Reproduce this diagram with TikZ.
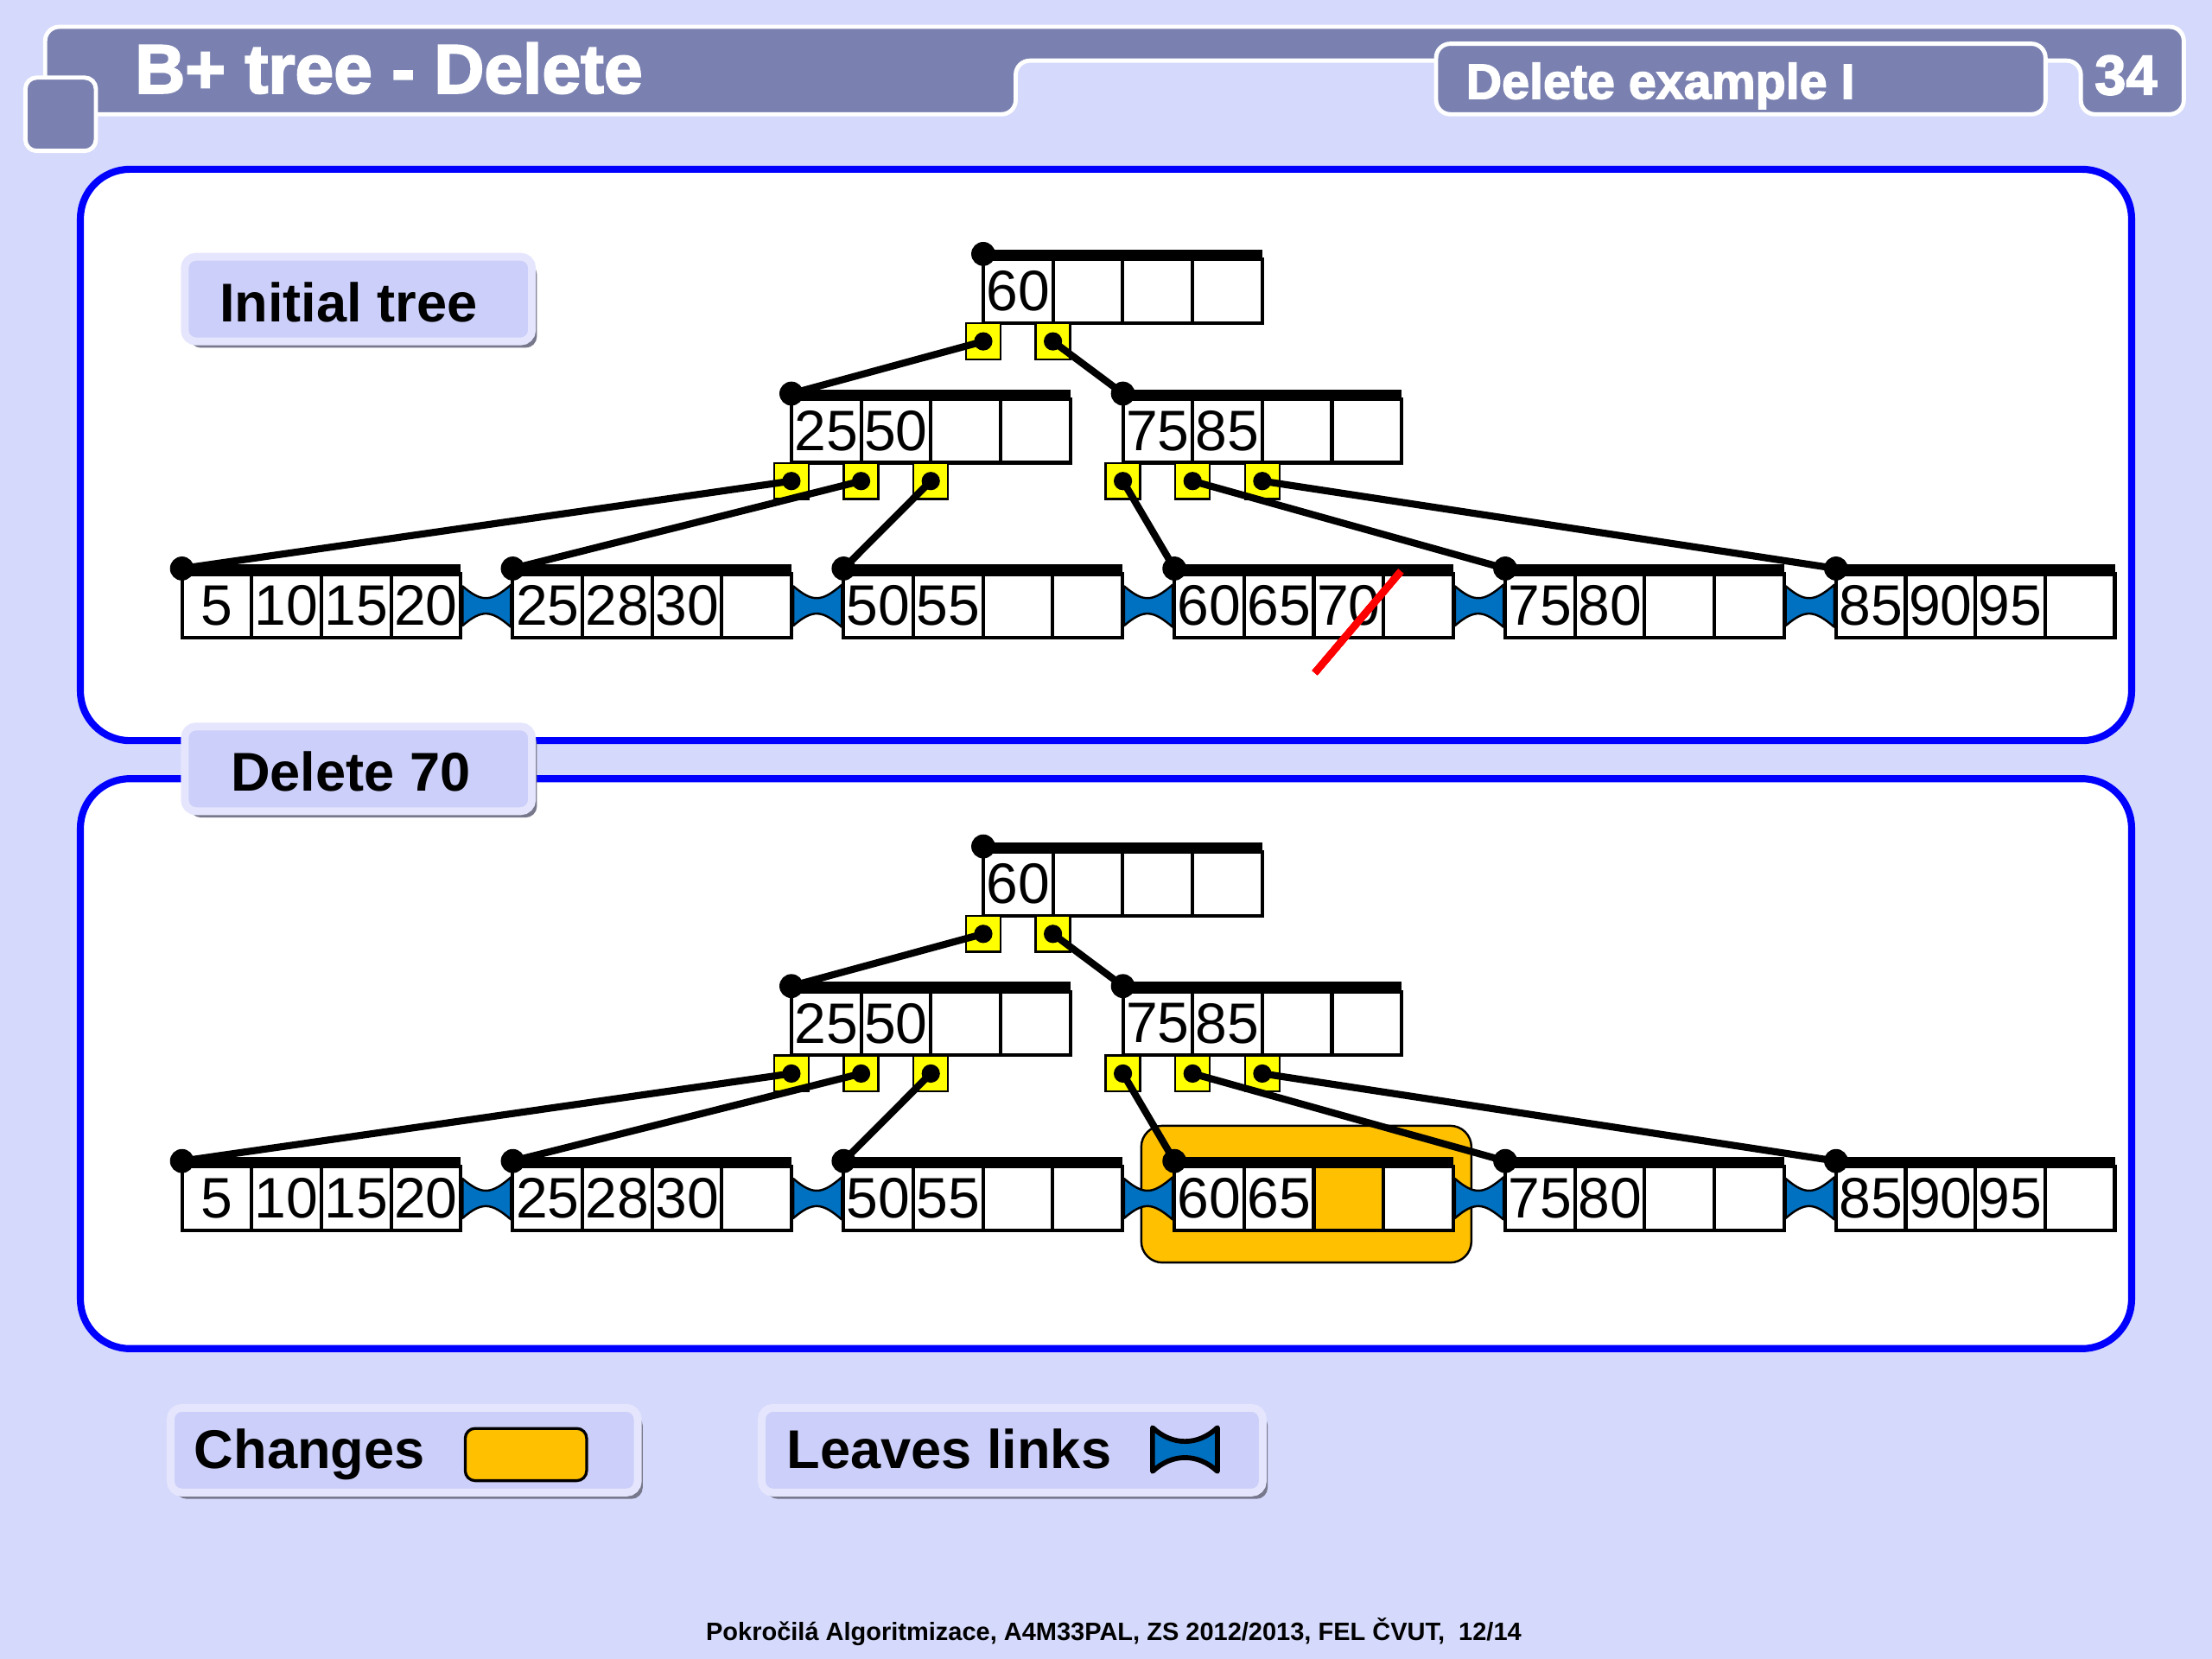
\documentclass[tikz,border=0pt]{standalone}
\usepackage{fontspec}
\setmainfont{Liberation Sans}
\newfontfamily\hfont{Liberation Sans Bold}[FakeBold=2.5]
\usetikzlibrary{calc,positioning,shadows}

\definecolor{bgc}{RGB}{213,217,251}
\definecolor{hdr}{RGB}{122,129,176}
\definecolor{tagin}{RGB}{204,207,249}
\definecolor{tagout}{RGB}{229,230,253}
\definecolor{tagshd}{RGB}{120,120,140}
\definecolor{ptry}{RGB}{255,255,0}
\definecolor{lnkb}{RGB}{0,112,192}
\definecolor{chg}{RGB}{255,192,0}

\tikzset{
  cell/.style={draw,line width=0.025cm,fill=white,minimum width=0.494cm,minimum height=0.45cm,inner sep=0pt,font=\fontsize{11.5}{12}\selectfont},
  ptr/.style={draw,line width=0.015cm,fill=ptry,minimum width=0.245cm,minimum height=0.255cm,inner sep=0pt},
  keybar/.style={line width=0.06cm},
  ptrline/.style={line width=0.05cm},
  lnk/.style={fill=lnkb,draw=black,line width=0.015cm,line join=round},
  panel/.style={draw=blue,line width=0.05cm,fill=white,rounded corners=0.35cm},
  hdrbox/.style={fill=hdr,draw=white,line width=0.03cm,rounded corners=0.1cm},
  hdrtext/.style={text=white,inner sep=0pt},
  tag/.style={fill=tagin,draw=tagout,line width=0.055cm,rounded corners=0.08cm,minimum width=2.46cm,minimum height=0.6cm,
    drop shadow={shadow xshift=0.035cm,shadow yshift=-0.045cm,fill=tagshd,opacity=1}},
  tagtext/.style={inner sep=0pt,font=\bfseries\fontsize{11}{13}\selectfont},
  chgbox/.style={fill=chg,draw=black,line width=0.015cm,rounded corners=0.15cm},
  swatch/.style={fill=chg,draw=black,line width=0.02cm,rounded corners=0.07cm,minimum width=0.86cm,minimum height=0.37cm,inner sep=0pt},
  delmark/.style={draw=red,line width=0.05cm},
}

% one B+ tree node: name, left x, bar y, keys
\newcommand{\bpcells}[4]{%
  \foreach \k [count=\i] in {#4}
    \node[cell] (#1-\i) at ({#2+(\i-0.5)*49.4},{#3+26.5}) {\k};
  \draw[keybar] ({#2},{#3}) -- ({#2+197.6},{#3});
  \coordinate (#1-d) at ({#2},{#3});
}
% pointer boxes under a node: name, left x, bar y, last index
\newcommand{\bpptrs}[4]{%
  \foreach \j in {0,...,#4}
    \node[ptr] (#1-p\j) at ({#2+\j*49.4},{#3+62}) {};
}
% link between two leaves
\newcommand{\leaflink}[2]{%
  \draw[lnk] ($(#1.east)+(0,-14)$) .. controls +(14,12) and +(-14,12) .. ($(#2.west)+(0,-15)$)
    -- ($(#2.west)+(0,15)$) .. controls +(-14,-12) and +(14,-12) .. ($(#1.east)+(0,14)$) -- cycle;
}
% whole tree: third key of leaf 4, y offset
\newcommand{\btree}[2]{%
  \bpcells{rt}{697}{180+#2}{60,{},{},{}}
  \bpcells{il}{561}{279+#2}{25,50,{},{}}
  \bpcells{ir}{796}{279+#2}{75,85,{},{}}
  \bpcells{lf1}{129}{403+#2}{5,10,15,20}
  \bpcells{lf2}{363.5}{403+#2}{25,28,30,{}}
  \bpcells{lf3}{598}{403+#2}{50,55,{},{}}
  \bpcells{lf4}{832.5}{403+#2}{60,65,{#1},{}}
  \bpcells{lf5}{1067}{403+#2}{75,80,{},{}}
  \bpcells{lf6}{1301.5}{403+#2}{85,90,95,{}}
  \bpptrs{rt}{697}{180+#2}{1}
  \bpptrs{il}{561}{279+#2}{2}
  \bpptrs{ir}{796}{279+#2}{2}
  \draw[ptrline] (rt-p0.center) -- (il-d);
  \draw[ptrline] (rt-p1.center) -- (ir-d);
  \draw[ptrline] (il-p0.center) -- (lf1-d);
  \draw[ptrline] (il-p1.center) -- (lf2-d);
  \draw[ptrline] (il-p2.center) -- (lf3-d);
  \draw[ptrline] (ir-p0.center) -- (lf4-d);
  \draw[ptrline] (ir-p1.center) -- (lf5-d);
  \draw[ptrline] (ir-p2.center) -- (lf6-d);
  \foreach \n in {rt-d,il-d,ir-d,lf1-d,lf2-d,lf3-d,lf4-d,lf5-d,lf6-d}
    \fill (\n) circle (8.5);
  \foreach \n in {rt-p0,rt-p1,il-p0,il-p1,il-p2,ir-p0,ir-p1,ir-p2}
    \fill (\n.center) circle (6.5);
  \foreach \a/\b in {1/2,2/3,3/4,4/5,5/6}
    \leaflink{lf\a-4}{lf\b-1}
}

\begin{document}
\begin{tikzpicture}[x=0.01cm,y=-0.01cm]
\useasboundingbox (0,0) rectangle (1568,1176);
\fill[bgc] (0,0) rectangle (1568,1176);

% header
\draw[hdrbox] (32,81) -- (32,19) -- (1548,19) -- (1548,81) -- (1475,81) -- (1475,43) -- (720,43) -- (720,81) -- cycle;
\draw[hdrbox] (1018,31) rectangle (1450,81);
\draw[hdrbox,rounded corners=0.08cm] (18,55) rectangle (68,107);
\node[hdrtext,anchor=base west,font=\hfont\fontsize{14}{16}\selectfont] (title) at (95,66) {B+ tree - Delete};
\node[hdrtext,anchor=base,font=\hfont\fontsize{10}{12}\selectfont] (subtitle) at (1177,70) {Delete example I};
\node[hdrtext,anchor=base,font=\hfont\fontsize{11.3}{12}\selectfont] (pgno) at (1507,67) {34};

% panels
\draw[panel] (57,120) rectangle (1511,525);
\draw[panel] (57,552) rectangle (1511,956);

% initial tree
\begin{scope}[name prefix=a-]
  \btree{70}{0}
  \draw[delmark] ($(lf4-3)+(-24,47.5)$) -- ($(lf4-3)+(37,-24.5)$);
\end{scope}

% after delete
\begin{scope}[name prefix=b-]
  \draw[chgbox] (809,798) rectangle (1043,895);
  \btree{}{420}
  \node[cell,fill=chg] (chgcell) at (lf4-3) {};
\end{scope}

\node[tag] (tinit) at (254,212) {};
\node[tagtext,anchor=base west] (tinitt) at (155,228) {Initial tree};
\node[tag] (tdel) at (254,545) {};
\node[tagtext,anchor=base west] (tdelt) at (163,561) {Delete 70};

% legend
\node[tag,minimum width=3.31cm] (lgc) at (286.5,1028) {};
\node[tagtext,anchor=base west] (lgct) at (137,1041) {Changes};
\node[swatch,right=0.27cm of lgct.east] (lgcs) {};
\node[tag,minimum width=3.55cm] (lgl) at (717.5,1028) {};
\node[tagtext,anchor=base west] (lglt) at (557,1041) {Leaves links};
\draw[lnk,line width=0.035cm] (817,1012) .. controls (831,1025) and (849,1025) .. (863,1012) -- (863,1043) .. controls (849,1030) and (831,1030) .. (817,1043) -- cycle;

% footer
\node[anchor=base,inner sep=0pt,font=\bfseries\fontsize{5.05}{6}\selectfont] (foot) at (789.5,1163) {Pokročilá Algoritmizace, A4M33PAL, ZS 2012/2013, FEL ČVUT,\ \ 12/14};
\end{tikzpicture}
\end{document}
